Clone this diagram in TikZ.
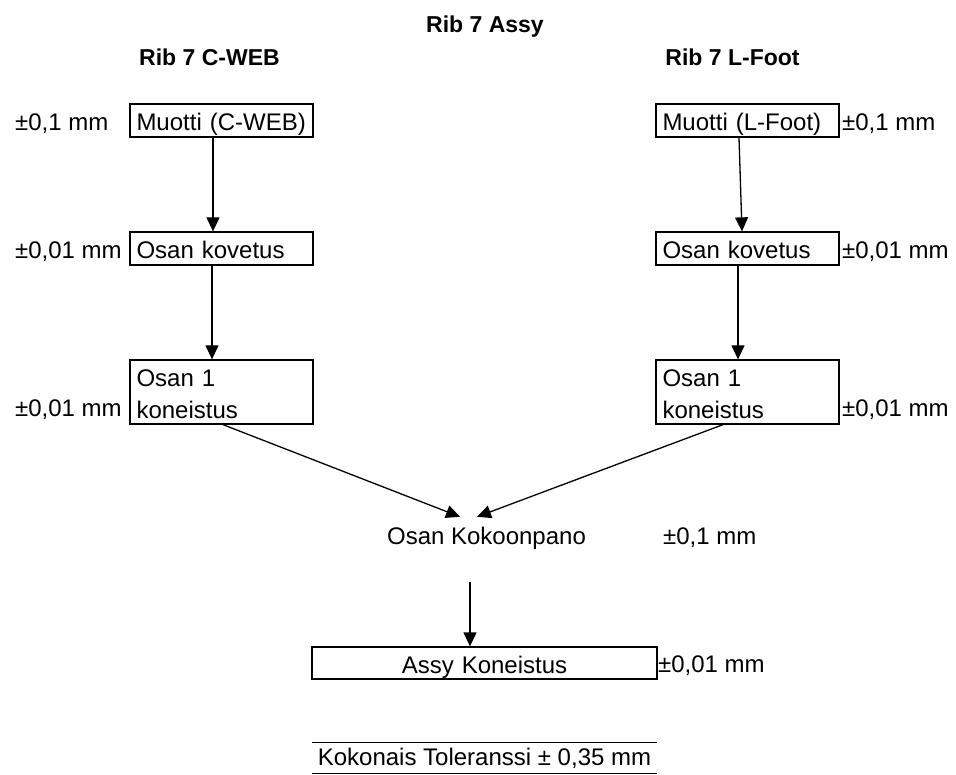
\documentclass[tikz,border=0pt]{standalone}
\usepackage{fontspec}
\setmainfont{Liberation Sans}
\usetikzlibrary{arrows.meta}

\tikzset{
  txt/.style={font=\fontsize{24}{32}\selectfont, inner sep=0pt},
  head/.style={font=\bfseries\fontsize{23}{26}\selectfont, inner sep=0pt},
  tol/.style={txt, anchor=base west},
  stepbox/.style={draw, line width=1.3pt, txt, minimum width=183pt, minimum height=33pt,
    inner xsep=6.5pt, inner ysep=0pt, text width=170pt, align=left,
    text height=21pt, text depth=0pt},
  arr/.style={line width=1.3pt, -{Triangle[width=13pt,length=14pt]}},
  rule/.style={line width=1.3pt}
}

\begin{document}
\begin{tikzpicture}[x=1pt, y=-1pt]
  \useasboundingbox (0,0) rectangle (956,775);

  % headings
  \node[head, anchor=base] (title) at (485,33) {Rib 7 Assy};
  \node[head, anchor=base] (hL) at (209.5,66) {Rib 7 C-WEB};
  \node[head, anchor=base] (hR) at (732.5,66) {Rib 7 L-Foot};

  % left branch
  \node[stepbox] (mL) at (221.5,120.5) {Muotti (C-WEB)};
  \node[stepbox] (kL) at (221.5,248.5) {Osan kovetus};
  \node[stepbox, minimum height=64pt, text depth=32pt] (oL) at (221.5,392) {Osan 1\\koneistus};

  % right branch
  \node[stepbox] (mR) at (747.5,120.5) {Muotti (L-Foot)};
  \node[stepbox] (kR) at (747.5,248.5) {Osan kovetus};
  \node[stepbox, minimum height=64pt, text depth=32pt] (oR) at (747.5,392) {Osan 1\\koneistus};

  % assembly
  \node[txt, inner ysep=10pt, text height=17pt, text depth=0pt, anchor=base] (kok) at (486.5,544) {Osan Kokoonpano};
  \node[stepbox, minimum width=345pt, minimum height=32pt, text width=332pt, align=center] (assy) at (484.5,663) {Assy Koneistus};

  % total tolerance between two rules
  \node[txt, minimum width=345pt, inner ysep=5pt, text height=17pt, text depth=3pt] (tot) at (484.5,758) {Kokonais Toleranssi ± 0,35 mm};
  \draw[rule] (tot.north west) -- (tot.north east);
  \draw[rule] (tot.south west) -- (tot.south east);

  % tolerances
  \node[tol] (tmL) at (15,131) {±0,1 mm};
  \node[tol] (tkL) at (15,259) {±0,01 mm};
  \node[tol] (toL) at (15,417) {±0,01 mm};
  \node[tol] (tmR) at (842,131) {±0,1 mm};
  \node[tol] (tkR) at (842,259) {±0,01 mm};
  \node[tol] (toR) at (842,417) {±0,01 mm};
  \node[tol] (tkok) at (663,544) {±0,1 mm};
  \node[tol] (tassy) at (658,672) {±0,01 mm};

  % connectors
  \draw[arr] ([xshift=-8.5pt]mL.south) -- ([xshift=-8.5pt]kL.north);
  \draw[arr] ([xshift=-9.5pt]kL.south) -- ([xshift=-9.5pt]oL.north);
  \draw[arr] ([xshift=-8.5pt]mR.south) -- ([xshift=-5.5pt]kR.north);
  \draw[arr] ([xshift=-9.5pt]kR.south) -- ([xshift=-9.5pt]oR.north);
  \draw[arr] ([xshift=1.5pt]oL.south) -- ([xshift=-26.5pt]kok.north);
  \draw[arr] ([xshift=-24.5pt]oR.south) -- ([xshift=-9.5pt]kok.north);
  \draw[arr] ([xshift=-16.5pt,yshift=-28pt]kok.south) -- ([xshift=-14.5pt]assy.north);
\end{tikzpicture}
\end{document}
